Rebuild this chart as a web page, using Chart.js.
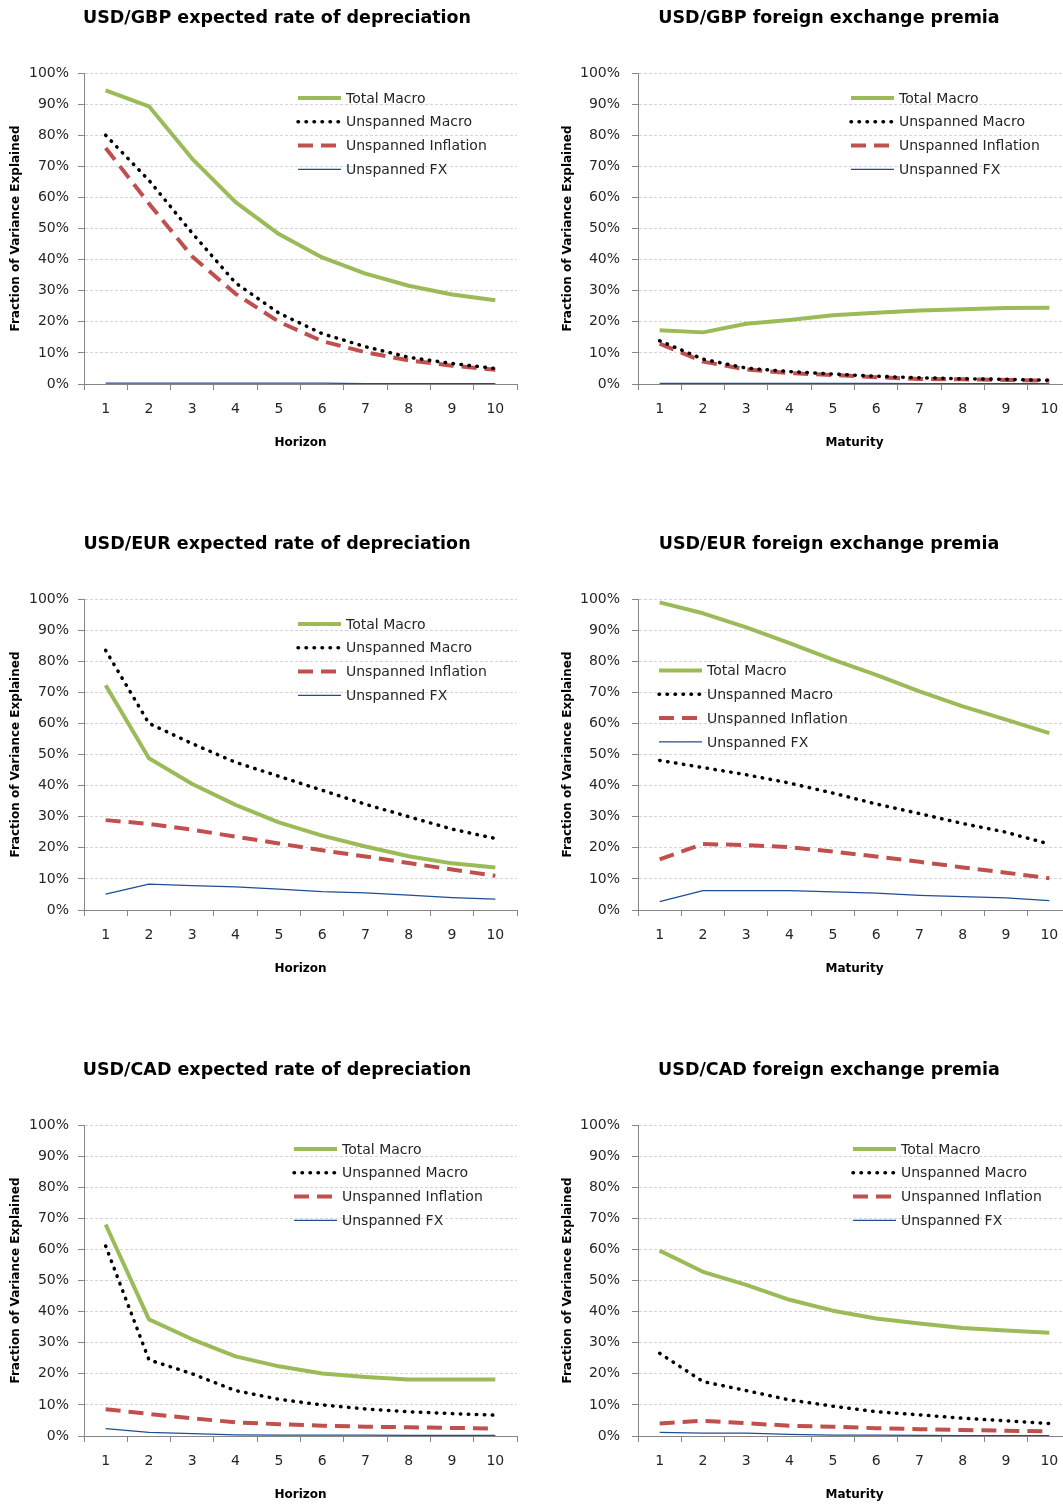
<!DOCTYPE html>
<html>
<head>
<meta charset="utf-8">
<script src="https://cdn.jsdelivr.net/npm/chart.js@4.4.1/dist/chart.umd.min.js"></script>
<style>
  html, body { margin: 0; padding: 0; background: #fff; }
  #page { position: relative; width: 1063px; height: 1505px; overflow: hidden; }
  .panel { position: absolute; width: 554px; height: 470px; }
  .panel canvas { position: absolute; left: 0; top: 0; }
  .ttl { position: absolute; top: 7px; font: bold 17.5px "DejaVu Sans"; line-height: 20px;
         color: #000; text-align: center; white-space: nowrap; }
</style>
</head>
<body>
<div id="page"></div>
<script>
const steps = ["1", "2", "3", "4", "5", "6", "7", "8", "9", "10"];
const seriesNames = ["Total Macro", "Unspanned Macro", "Unspanned Inflation", "Unspanned FX"];
const yTicks = [0, 10, 20, 30, 40, 50, 60, 70, 80, 90, 100];

// USD/GBP
const gbpDepTotal = [94.4, 89.3, 72.4, 58.5, 48.2, 40.7, 35.5, 31.6, 28.8, 26.9];
const gbpDepMacro = [80.0, 65.5, 48.5, 32.5, 22.8, 16.2, 12.0, 8.6, 6.6, 5.0];
const gbpDepInfl = [75.9, 58.0, 41.0, 29.0, 20.0, 13.8, 10.2, 7.6, 5.9, 4.6];
const gbpDepFx = [0.3, 0.3, 0.3, 0.3, 0.3, 0.3, 0.1, 0.1, 0.1, 0.1];
const gbpPremTotal = [17.3, 16.6, 19.4, 20.6, 22.1, 22.9, 23.6, 24.0, 24.4, 24.5];
const gbpPremMacro = [13.9, 8.0, 5.1, 4.0, 3.2, 2.5, 2.0, 1.7, 1.5, 1.2];
const gbpPremInfl = [13.0, 7.2, 4.7, 3.5, 2.9, 2.2, 1.6, 1.5, 1.3, 1.1];
const gbpPremFx = [0.2, 0.2, 0.2, 0.2, 0.2, 0.2, 0.1, 0.1, 0.1, 0.1];

// USD/EUR
const eurDepTotal = [72.3, 48.8, 40.5, 33.8, 28.2, 23.9, 20.4, 17.3, 15.0, 13.7];
const eurDepMacro = [83.5, 60.0, 53.5, 47.5, 43.0, 38.5, 34.0, 30.0, 26.0, 23.0];
const eurDepInfl = [28.9, 27.7, 25.8, 23.6, 21.4, 19.2, 17.2, 15.1, 13.0, 11.0];
const eurDepFx = [5.1, 8.3, 7.8, 7.4, 6.7, 5.9, 5.5, 4.8, 4.0, 3.5];
const eurPremTotal = [98.9, 95.4, 90.9, 85.8, 80.5, 75.6, 70.3, 65.5, 61.2, 56.9];
const eurPremMacro = [48.1, 45.8, 43.5, 40.8, 37.6, 34.1, 31.0, 27.8, 25.0, 21.2];
const eurPremInfl = [16.3, 21.2, 20.9, 20.2, 18.8, 17.2, 15.5, 13.7, 12.0, 10.2];
const eurPremFx = [2.7, 6.2, 6.2, 6.2, 5.8, 5.4, 4.7, 4.3, 3.9, 3.0];

// USD/CAD
const cadDepTotal = [68.0, 37.5, 31.1, 25.6, 22.4, 20.1, 19.0, 18.2, 18.2, 18.2];
const cadDepMacro = [61.1, 24.5, 20.0, 14.6, 11.8, 10.0, 8.7, 7.8, 7.2, 6.7];
const cadDepInfl = [8.6, 7.1, 5.7, 4.4, 3.8, 3.3, 3.0, 2.8, 2.6, 2.4];
const cadDepFx = [2.4, 1.2, 0.8, 0.4, 0.3, 0.3, 0.3, 0.2, 0.2, 0.2];
const cadPremTotal = [59.6, 52.8, 48.6, 43.8, 40.3, 37.8, 36.2, 34.7, 33.9, 33.2];
const cadPremMacro = [26.6, 17.5, 14.6, 11.6, 9.6, 7.8, 6.8, 5.7, 4.9, 4.0];
const cadPremInfl = [4.0, 4.9, 4.1, 3.3, 3.0, 2.5, 2.2, 1.9, 1.7, 1.5];
const cadPremFx = [1.2, 0.9, 0.9, 0.5, 0.3, 0.3, 0.2, 0.1, 0.1, 0.1];

const STYLES = [
  { borderColor: "#9bbb59", borderWidth: 4, borderDash: [], borderCapStyle: "butt" },
  { borderColor: "#000000", borderWidth: 3.5, borderDash: [0.5, 7.5], borderCapStyle: "round" },
  { borderColor: "#c0504d", borderWidth: 4, borderDash: [15, 8], borderCapStyle: "butt" },
  { borderColor: "#1f4e96", borderWidth: 1.25, borderDash: [], borderCapStyle: "butt" },
];
const AXIS = "#868686";
const TEXT = "#262626";

Chart.defaults.font.family = "'DejaVu Sans', Verdana, sans-serif";
Chart.defaults.color = TEXT;

const panels = [
  { title: "USD/GBP expected rate of depreciation", xTitle: "Horizon", col: 0, row: 0,
    series: [gbpDepTotal, gbpDepMacro, gbpDepInfl, gbpDepFx], legend: { x: 298, y: 98 } },
  { title: "USD/GBP foreign exchange premia", xTitle: "Maturity", col: 1, row: 0,
    series: [gbpPremTotal, gbpPremMacro, gbpPremInfl, gbpPremFx], legend: { x: 297, y: 98 } },
  { title: "USD/EUR expected rate of depreciation", xTitle: "Horizon", col: 0, row: 1,
    series: [eurDepTotal, eurDepMacro, eurDepInfl, eurDepFx], legend: { x: 298, y: 98 } },
  { title: "USD/EUR foreign exchange premia", xTitle: "Maturity", col: 1, row: 1,
    series: [eurPremTotal, eurPremMacro, eurPremInfl, eurPremFx], legend: { x: 105, y: 144.5 } },
  { title: "USD/CAD expected rate of depreciation", xTitle: "Horizon", col: 0, row: 2,
    series: [cadDepTotal, cadDepMacro, cadDepInfl, cadDepFx], legend: { x: 294, y: 97 } },
  { title: "USD/CAD foreign exchange premia", xTitle: "Maturity", col: 1, row: 2,
    series: [cadPremTotal, cadPremMacro, cadPremInfl, cadPremFx], legend: { x: 299, y: 97 } },
];

// legend drawn inside the plot area, Excel style
const insideLegend = {
  id: "insideLegend",
  afterDatasetsDraw(chart, args, opts) {
    const ctx = chart.ctx;
    ctx.save();
    chart.data.datasets.forEach((ds, i) => {
      const y = opts.y + i * 23.8;
      ctx.beginPath();
      ctx.strokeStyle = ds.borderColor;
      ctx.lineWidth = ds.borderWidth;
      ctx.lineCap = ds.borderCapStyle;
      ctx.setLineDash(ds.borderDash);
      ctx.moveTo(opts.x, y);
      ctx.lineTo(opts.x + 43, y);
      ctx.stroke();
      ctx.setLineDash([]);
      ctx.fillStyle = TEXT;
      ctx.font = "14px 'DejaVu Sans'";
      ctx.textBaseline = "middle";
      ctx.fillText(ds.label, opts.x + 48, y + 1);
    });
    ctx.restore();
  },
};

const page = document.getElementById("page");

panels.forEach((p) => {
  const box = document.createElement("div");
  box.className = "panel";
  box.style.left = p.col * 554 + "px";
  box.style.top = p.row * 526 + "px";

  const canvas = document.createElement("canvas");
  canvas.width = 530;
  canvas.height = 470;
  box.appendChild(canvas);

  const ttl = document.createElement("div");
  ttl.className = "ttl";
  ttl.textContent = p.title;
  ttl.style.left = "0px";
  ttl.style.width = (p.col ? 550 : 554) + "px";
  box.appendChild(ttl);
  page.appendChild(box);

  new Chart(canvas, {
    type: "line",
    data: {
      labels: steps,
      datasets: p.series.map((values, i) => ({
        label: seriesNames[i],
        data: values,
        ...STYLES[i],
        pointRadius: 0,
        tension: 0,
        fill: false,
        borderJoinStyle: "round",
      })),
    },
    options: {
      responsive: false,
      animation: false,
      layout: { padding: { top: 73, right: 13, bottom: 0, left: 0 } },
      plugins: {
        legend: { display: false },
        tooltip: { enabled: false },
        insideLegend: p.legend,
      },
      scales: {
        x: {
          offset: true,
          grid: { drawOnChartArea: false, offset: true, tickLength: 6, color: AXIS, tickColor: AXIS },
          border: { color: AXIS },
          ticks: { font: { size: 14 }, color: TEXT, padding: 11, maxRotation: 0 },
          title: { display: true, text: p.xTitle, color: "#000", font: { size: 12, weight: "bold" },
                   padding: { top: 0, bottom: 20 } },
          afterFit(scale) { scale.height = 86; },
        },
        y: {
          min: 0,
          max: 100,
          afterBuildTicks(scale) { scale.ticks = yTicks.map((v) => ({ value: v })); },
          grid: { color: "#d4d4d4", tickColor: AXIS, tickLength: 6, tickBorderDash: [] },
          border: { color: AXIS, dash: [3, 2] },
          ticks: { font: { size: 14 }, color: TEXT, padding: p.col ? 12 : 9, callback: (v) => v + "%" },
          title: { display: true, text: "Fraction of Variance Explained", color: "#000",
                   font: { size: 12, weight: "bold" }, padding: { top: p.col ? 7 : 9, bottom: 0 } },
          afterFit(scale) { scale.width = 84; },
        },
      },
    },
    plugins: [insideLegend],
  });
});
</script>
</body>
</html>
